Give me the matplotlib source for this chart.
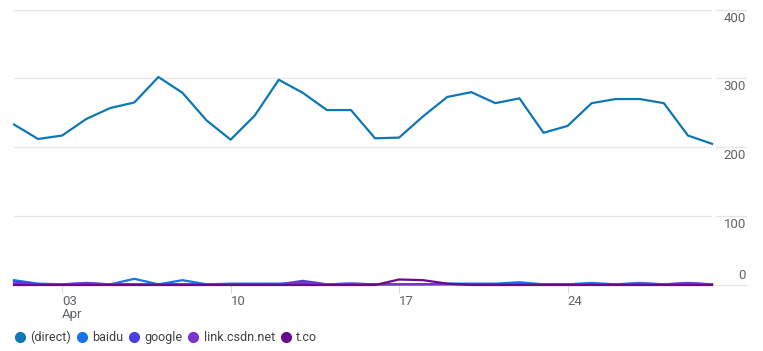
import numpy as np
import pandas as pd
import matplotlib
matplotlib.use('Agg')
import matplotlib.pyplot as plt
import matplotlib.transforms as mtransforms
from matplotlib.lines import Line2D

plt.rcParams['font.family'] = ['Roboto', 'DejaVu Sans']

# daily users per source, April
days = pd.date_range('2023-04-01', '2023-04-30')
direct = [233, 212, 217, 241, 257, 265, 302, 279, 239, 211, 246, 298, 279, 254, 254,
          213, 214, 245, 273, 280, 264, 271, 221, 231, 264, 270, 270, 264, 217, 205]
baidu = [7, 2, 1, 2, 1, 9, 1, 7, 1, 2, 2, 2, 2, 1, 2,
         1, 1, 1, 2, 2, 2, 4, 1, 1, 3, 1, 3, 1, 2, 1]
google = [5, 1, 1, 3, 1, 1, 1, 1, 1, 1, 1, 1, 6, 1, 2,
          1, 1, 1, 1, 1, 1, 1, 1, 1, 1, 1, 1, 1, 3, 1]
csdn = [2, 1, 1, 2, 1, 1, 1, 1, 1, 1, 1, 1, 3, 1, 1,
        1, 1, 1, 1, 1, 1, 1, 1, 1, 1, 1, 2, 1, 2, 1]
tco = [0, 0, 0, 0, 0, 0, 0, 0, 0, 0, 0, 0, 0, 0, 0,
       0, 8, 7, 2, 0, 0, 0, 0, 0, 0, 0, 0, 0, 0, 0]
names = ['(direct)', 'baidu', 'google', 'link.csdn.net', 't.co']
colors = ['#0e77b5', '#1a73e8', '#4a3fe2', '#7b35cc', '#6a0a90']

y_ticks = [0, 100, 200, 300, 400]
x_ticks = pd.to_datetime(['2023-04-03', '2023-04-10', '2023-04-17', '2023-04-24'])
x_labels = ['03\nApr', '10', '17', '24']

fig = plt.figure(figsize=(7.63, 3.51), dpi=100)
ax = fig.add_axes([14 / 763, 66 / 351, 698 / 763, 275.5 / 351])

for vals, c in zip([direct, baidu, google, csdn, tco], colors):
    ax.plot(days, vals, color=c, lw=1.6, clip_on=False, zorder=3)

ax.set_xlim(days[0], days[-1])
ax.set_ylim(0, 400)
for s in ax.spines.values():
    s.set_visible(False)

ax.set_yticks(y_ticks)
ax.yaxis.grid(True, color='#e6e6e6', lw=1)
ax.tick_params(axis='y', left=False, labelleft=False)

ax.set_xticks(x_ticks)
ax.set_xticklabels(x_labels, ha='left', linespacing=1.0)
ax.tick_params(axis='x', length=6, color='#dadce0', labelsize=9.5,
               labelcolor='#5f6368', pad=1)

# right-hand value labels with short grid stubs
tr = mtransforms.blended_transform_factory(ax.transAxes, ax.transData)
for v in y_ticks:
    ax.plot([1.006, 1.049], [v, v], color='#e6e6e6', lw=1, transform=tr, clip_on=False)
    if v == 0:
        ax.text(1.049, v + 5, str(v), transform=tr, ha='right', va='bottom',
                fontsize=9.5, color='#5f6368')
    else:
        ax.text(1.049, v - 3, str(v), transform=tr, ha='right', va='top',
                fontsize=9.5, color='#5f6368')

handles = [Line2D([], [], ls='', marker='o', ms=7, color=c) for c in colors]
fig.legend(handles, names, loc='lower left', bbox_to_anchor=(0.006, -0.012), ncol=5,
           frameon=False, fontsize=9, handlelength=0.6, handletextpad=0.55,
           columnspacing=0.55, labelcolor='#3c4043')

fig.savefig('out.png', dpi=100)
